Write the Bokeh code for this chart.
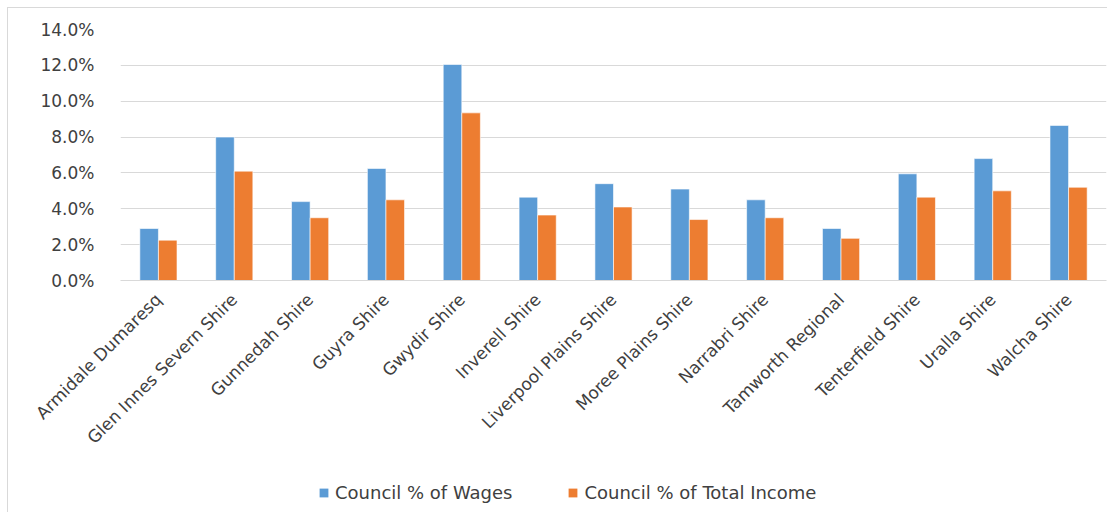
import math
from bokeh.plotting import figure
from bokeh.layouts import column, row
from bokeh.models import (ColumnDataSource, FactorRange, Legend, LegendItem, Range1d,
                          NumeralTickFormatter, FixedTicker, Spacer)
from bokeh.transform import dodge
from bokeh.embed import file_html
from bokeh.resources import INLINE

councils = ["Armidale Dumaresq", "Glen Innes Severn Shire", "Gunnedah Shire", "Guyra Shire",
            "Gwydir Shire", "Inverell Shire", "Liverpool Plains Shire", "Moree Plains Shire",
            "Narrabri Shire", "Tamworth Regional", "Tenterfield Shire", "Uralla Shire", "Walcha Shire"]
wages_pct = [2.9, 8.0, 4.4, 6.25, 12.05, 4.65, 5.4, 5.1, 4.5, 2.9, 5.95, 6.8, 8.65]
income_pct = [2.25, 6.1, 3.5, 4.5, 9.35, 3.65, 4.1, 3.4, 3.5, 2.35, 4.65, 5.0, 5.2]
series_names = ["Council % of Wages", "Council % of Total Income"]
y_ticks = [0, 2, 4, 6, 8, 10, 12, 14]

BLUE = "#5B9BD5"
ORANGE = "#ED7D31"
TXT = "#404040"
FONT = "DejaVu Sans"
FS = "17px"

src = ColumnDataSource(dict(c=councils, w=[v / 100 for v in wages_pct], i=[v / 100 for v in income_pct]))

p = figure(x_range=FactorRange(*councils, range_padding=0), y_range=(0, 0.14),
           width=1099, height=460, output_backend="svg", toolbar_location=None,
           min_border_left=112, min_border_right=1, min_border_top=21, min_border_bottom=188)
p.x_range.range_padding = 0

bw = 0.245
p.vbar(x=dodge("c", -bw / 2, range=p.x_range), top="w", width=bw, source=src,
       fill_color=BLUE, line_color="white", line_width=0.6)
p.vbar(x=dodge("c", bw / 2, range=p.x_range), top="i", width=bw, source=src,
       fill_color=ORANGE, line_color="white", line_width=0.6)

p.yaxis.ticker = FixedTicker(ticks=[t / 100 for t in y_ticks])
p.yaxis.formatter = NumeralTickFormatter(format="0.0%")
p.yaxis.axis_line_color = None
p.yaxis.major_tick_line_color = None
p.yaxis.minor_tick_line_color = None
p.yaxis.major_label_text_font = FONT
p.yaxis.major_label_text_font_size = FS
p.yaxis.major_label_text_color = TXT
p.yaxis.major_label_standoff = 20

p.xaxis.axis_line_color = "#d9d9d9"
p.xaxis.major_tick_line_color = None
p.xaxis.minor_tick_line_color = None
p.xaxis.major_label_orientation = math.pi / 4
p.xaxis.major_label_text_font = FONT
p.xaxis.major_label_text_font_size = FS
p.xaxis.major_label_text_color = TXT
p.xaxis.major_label_standoff = 10

p.xgrid.grid_line_color = None
p.ygrid.grid_line_color = "#d9d9d9"
p.ygrid.grid_line_width = 1
p.outline_line_color = None

# legend strip below the chart (its bars fall outside its own y range, only the key shows)
lp = figure(x_range=p.x_range, y_range=Range1d(1, 2), width=1099, height=44, output_backend="svg",
            toolbar_location=None, x_axis_type=None, y_axis_type=None,
            min_border_left=112, min_border_right=1, min_border_top=0, min_border_bottom=0)
lp.grid.grid_line_color = None
lp.outline_line_color = None
k1 = lp.vbar(x="c", top="w", width=0.1, source=src, fill_color=BLUE, line_color=None)
k2 = lp.vbar(x="c", top="i", width=0.1, source=src, fill_color=ORANGE, line_color=None)
legend = Legend(items=[LegendItem(label=series_names[0], renderers=[k1], index=0),
                       LegendItem(label=series_names[1], renderers=[k2], index=0)],
                orientation="horizontal", location=(198, 9),
                label_text_font=FONT, label_text_font_size="18px", label_text_color=TXT,
                glyph_width=11, glyph_height=11, label_standoff=6, spacing=55,
                padding=0, margin=0, border_line_color=None, background_fill_alpha=0)
lp.add_layout(legend, "center")

inner = column(p, lp, spacing=0)
inner.styles = {"border-top": "1px solid #d9d9d9", "border-left": "1px solid #d9d9d9"}
page = column(Spacer(height=7), row(Spacer(width=7), inner, spacing=0), spacing=0)

open("out.html", "w").write(file_html(page, INLINE))
